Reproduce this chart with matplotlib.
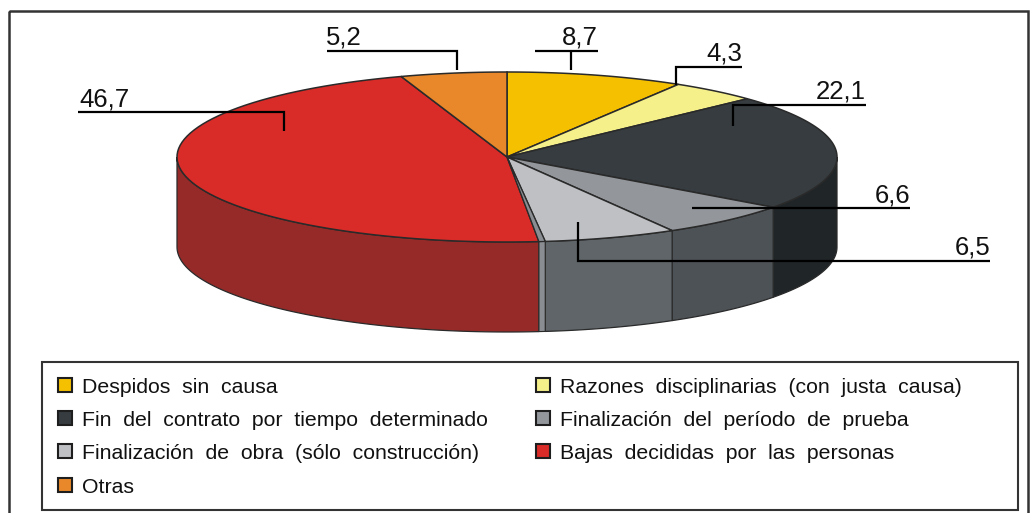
import numpy as np
import matplotlib
matplotlib.use("Agg")
import matplotlib.pyplot as plt
from matplotlib.patches import Polygon, Rectangle

plt.rcParams['font.family'] = ['Liberation Sans', 'DejaVu Sans']

categories = ["Despidos sin causa", "Razones disciplinarias (con justa causa)",
              "Fin del contrato por tiempo determinado", "Finalización del período de prueba",
              "Finalización de obra (sólo construcción)", "Bajas decididas por las personas", "Otras"]
values = [8.7, 4.3, 22.1, 6.6, 6.5, 46.7, 5.2]
value_labels = ["8,7", "4,3", "22,1", "6,6", "6,5", "46,7", "5,2"]
top_colors = ["#F5C000", "#F5F08A", "#363C3F", "#93979B", "#BEC0C4", "#D92B27", "#E8882A"]
side_colors = ["#B08A00", "#B0AC60", "#202527", "#4D5256", "#5F6568", "#952A28", "#A86020"]

W, H = 1032, 513
fig = plt.figure(figsize=(W / 100, H / 100), dpi=100)
ax = fig.add_axes([0, 0, 1, 1])
ax.set_xlim(0, W)
ax.set_ylim(H, 0)
ax.axis("off")

CX, CY, RX, RY, DEPTH = 507, 157, 330, 85, 90
EDGE = "#2A2A2A"


def rim(a0, a1, n=80):
    t = np.radians(np.linspace(a0, a1, n))
    return np.column_stack([CX + RX * np.sin(t), CY - RY * np.cos(t)])


vals = np.array(values)
cum = np.concatenate([[0], np.cumsum(vals)]) / vals.sum() * 360

# side walls (only the front half of the disc shows)
for i in range(len(vals)):
    a0, a1 = max(cum[i], 90), min(cum[i + 1], 270)
    if a1 <= a0:
        continue
    if i == 5:
        a0 += 1.1
    r = rim(a0, a1)
    poly = np.vstack([r, (r + [0, DEPTH])[::-1]])
    ax.add_patch(Polygon(poly, closed=True, fc=side_colors[i], ec=EDGE, lw=0.9, zorder=2))

# sliver between the grey and red sections
gap = rim(cum[5], cum[5] + 1.1, 8)
ax.add_patch(Polygon(np.vstack([gap, (gap + [0, DEPTH])[::-1]]), closed=True, fc="#8A8E92", ec=EDGE, lw=0.8, zorder=2.5))
ax.add_patch(Polygon(np.vstack([[CX, CY], gap]), closed=True, fc="#8A8E92", ec=EDGE, lw=0.9, zorder=3.5))

# top faces
for i in range(len(vals)):
    a0 = cum[i] + (1.1 if i == 5 else 0)
    ax.add_patch(Polygon(np.vstack([[CX, CY], rim(a0, cum[i + 1])]), closed=True,
                         fc=top_colors[i], ec=EDGE, lw=1.1, zorder=3))

# leader lines and value labels
LW = 1.6
leaders = {
    0: ([535, 598, None], None),
}
def leader(xs, ys):
    ax.plot(xs, ys, color="black", lw=LW, zorder=5, solid_capstyle="butt", solid_joinstyle="miter")

leader([535, 598], [51, 51]); leader([571, 571], [51, 70])
leader([676, 676, 742], [85, 67, 67])
leader([733, 733, 866], [126, 105, 105])
leader([692, 910], [208, 208])
leader([578, 578, 990], [222, 261, 261])
leader([78, 284, 284], [112, 112, 131])
leader([327, 457, 457], [51, 51, 70])

label_pos = [(598, 45), (742, 61), (866, 99), (910, 202), (990, 255), (130, 106), (362, 45)]
for lab, (x, y) in zip(value_labels, label_pos):
    ax.text(x, y, lab, fontsize=18.5, ha="right", va="baseline", color="#111111", zorder=6)

# outer frame and legend box
ax.add_patch(Rectangle((9, 11), 1019, 520, fc="none", ec="#333333", lw=1.8, zorder=1))
ax.add_patch(Rectangle((42, 362), 976, 148, fc="white", ec="#333333", lw=1.5, zorder=1))

order = [(0, 0, 0), (1, 1, 0), (2, 0, 1), (3, 1, 1), (4, 0, 2), (5, 1, 2), (6, 0, 3)]
col_x = [58, 536]
row_y = [385, 418, 451, 485]
for i, c, r in order:
    ax.add_patch(Rectangle((col_x[c], row_y[r] - 7), 14, 14, fc=top_colors[i], ec="#1E1E1E", lw=1.5, zorder=4))
    ax.text(col_x[c] + 24, row_y[r] + 8, categories[i].replace(" ", "  "), fontsize=15.3,
            ha="left", va="baseline", color="#111111", zorder=6)

fig.savefig("out.png", dpi=100)
